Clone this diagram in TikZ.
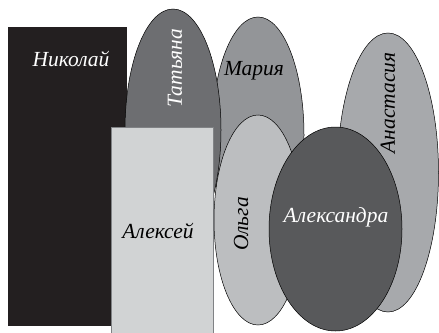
\documentclass[tikz,border=0pt]{standalone}
\usepackage{fontspec}
\setmainfont{Liberation Serif}
\usepackage{xcolor}
\usepackage{tikz}
\usetikzlibrary{shapes.geometric}
\definecolor{nikolaiblack}{RGB}{35,31,32}
\definecolor{tatyanagray}{RGB}{109,110,113}
\definecolor{mariagray}{RGB}{147,149,152}
\definecolor{olgagray}{RGB}{188,190,192}
\definecolor{alexandragray}{RGB}{88,89,91}
\definecolor{anastasiagray}{RGB}{167,169,172}
\definecolor{alexeygray}{RGB}{209,211,212}
\definecolor{edgegray}{RGB}{128,130,133}

\begin{document}
\begin{tikzpicture}[x=1pt, y=-1pt,
  block/.style={draw=none, inner sep=0pt, anchor=north west},
  oval/.style={draw, ellipse, inner sep=0pt, line width=0.5pt},
  persontext/.style={font=\fontsize{21.5}{21.5}\selectfont\itshape, inner sep=0pt}
]
\useasboundingbox (0,0) rectangle (439,332);
\node[block, fill=nikolaiblack, minimum width=119pt, minimum height=299pt] (nikolai) at (8,27) {};
\node[oval, fill=mariagray, minimum width=92pt, minimum height=236pt] (maria) at (258,135) {};
\node[oval, fill=tatyanagray, minimum width=96pt, minimum height=242pt] (tatyana) at (173,130) {};
\node[block, fill=alexeygray, draw=edgegray, line width=0.8pt, minimum width=102pt, minimum height=210pt] (alexey) at (111,127) {};
\node[oval, fill=anastasiagray, minimum width=101pt, minimum height=279pt] (anastasia) at (388,172.5) {};
\node[oval, fill=olgagray, minimum width=88pt, minimum height=210pt] (olga) at (258,220) {};
\node[oval, fill=alexandragray, minimum width=133pt, minimum height=204pt] (alexandra) at (335.5,229) {};

\node[persontext, text=white] (nikolaitext) at (71,59) {Николай};
\node[persontext, text=white, rotate=90] (tatyanatext) at (175,68) {Татьяна};
\node[persontext] (mariatext) at (254,71) {Мария};
\node[persontext, rotate=90] (anastasiatext) at (388,103) {Анастасия};
\node[persontext] (alexeytext) at (158,231) {Алексей};
\node[persontext, rotate=90] (olgatext) at (241,224) {Ольга};
\node[persontext, text=white] (alexandratext) at (336,217) {Александра};
\end{tikzpicture}
\end{document}
